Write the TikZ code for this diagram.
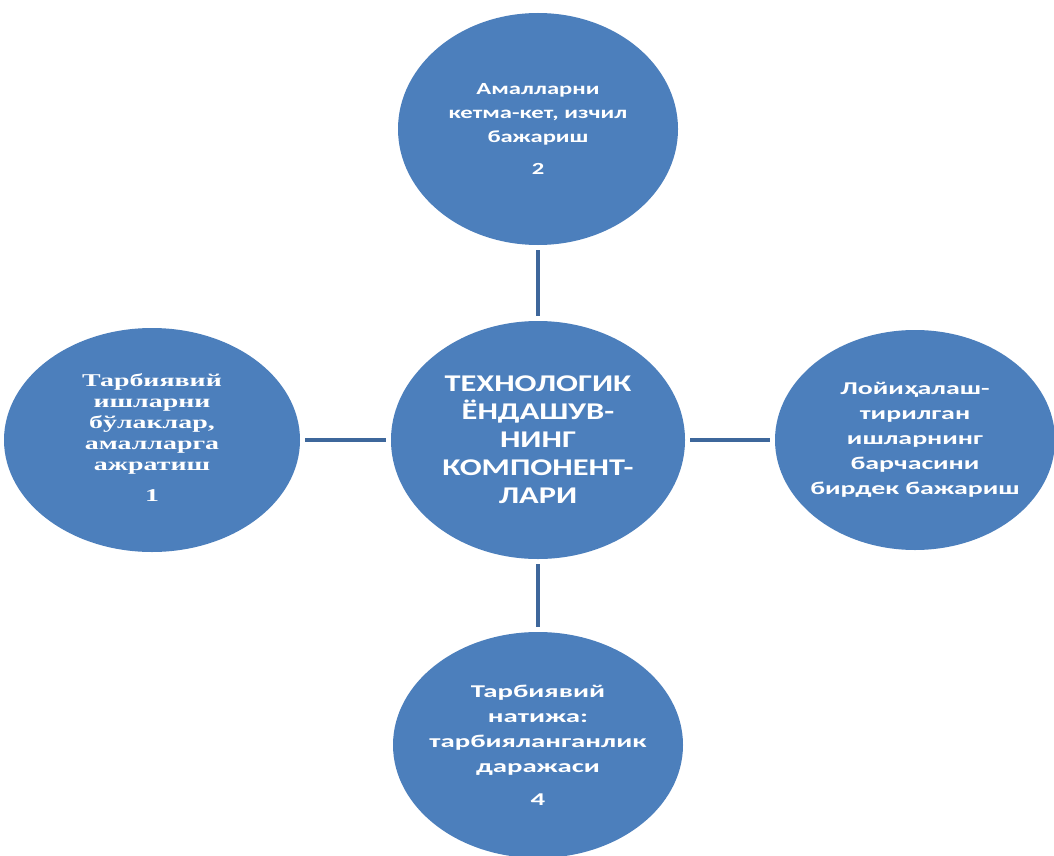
\documentclass[tikz,border=0pt]{standalone}
\usepackage{fontspec}
\usetikzlibrary{shapes.geometric}
\newfontfamily\sansT[FakeStretch=1.45]{Carlito}
\newfontfamily\sansR[FakeStretch=1.55]{Carlito}
\newfontfamily\sansB[FakeStretch=1.6]{Carlito}
\newfontfamily\sansC[FakeStretch=1.35]{Carlito}
\newfontfamily\serifL[FakeStretch=1.55]{Liberation Serif}
\definecolor{ovalblue}{RGB}{76,127,188}
\definecolor{linkblue}{RGB}{62,103,155}
\tikzset{
  oval/.style={ellipse, fill=ovalblue, draw=none, inner sep=0pt},
  ovaltext/.style={text=white, align=center, inner sep=0pt},
  link/.style={draw=linkblue, line width=3.5pt, shorten <=5pt, shorten >=5pt}
}
\begin{document}
\begin{tikzpicture}[x=1pt,y=-1pt]
\useasboundingbox[fill=white] (0,0) rectangle (1054,856);
\node[oval, minimum width=280pt, minimum height=232pt,
  label={[ovaltext, font=\sansT\bfseries\fontsize{17}{24}\selectfont]center:{Амалларни\\кетма-кет, изчил\\бажариш\\[8pt]2}}] (top) at (538,129) {};
\node[oval, minimum width=294pt, minimum height=238pt,
  label={[ovaltext, font=\sansC\bfseries\fontsize{24}{28}\selectfont]center:{ТЕХНОЛОГИК\\ЁНДАШУВ-\\НИНГ\\КОМПОНЕНТ-\\ЛАРИ}}] (c) at (538,440) {};
\node[oval, minimum width=296pt, minimum height=224pt,
  label={[ovaltext, font=\serifL\bfseries\fontsize{18}{21}\selectfont, yshift=2pt]center:{Тарбиявий\\ишларни\\бўлаклар,\\амалларга\\ажратиш\\[10pt]1}}] (l) at (152,440) {};
\node[oval, minimum width=280pt, minimum height=220pt,
  label={[ovaltext, font=\sansR\bfseries\fontsize{18}{25}\selectfont]center:{Лойиҳалаш-\\тирилган\\ишларнинг\\барчасини\\бирдек бажариш}}] (r) at (915,440) {};
\node[oval, minimum width=290pt, minimum height=226pt,
  label={[ovaltext, font=\sansB\bfseries\fontsize{18}{25}\selectfont]center:{Тарбиявий\\натижа:\\тарбияланганлик\\даражаси\\[8pt]4}}] (b) at (538,745) {};
\draw[link] (c.north) -- (top.south);
\draw[link] (c.south) -- (b.north);
\draw[link] (c.west) -- (l.east);
\draw[link] (c.east) -- (r.west);
\end{tikzpicture}
\end{document}
